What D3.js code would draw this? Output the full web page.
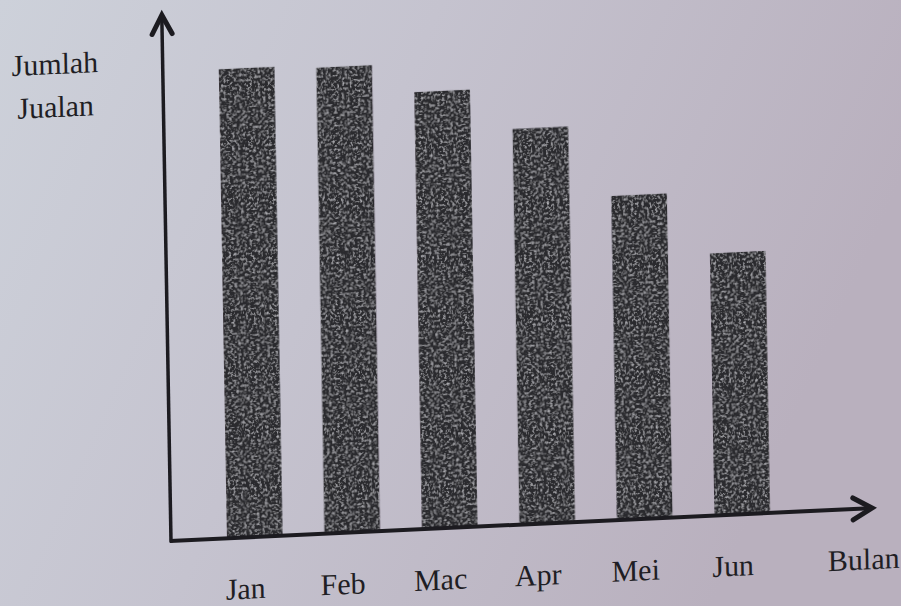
<!DOCTYPE html>
<html>
<head>
<meta charset="utf-8">
<script src="https://cdn.jsdelivr.net/npm/d3@7"></script>
<style>
  html, body { margin: 0; padding: 0; background: #c4c3ce; }
  svg { display: block; }
  text { font-family: "Liberation Serif", "DejaVu Serif", serif; fill: #1f1e24; }
</style>
</head>
<body>
<svg id="chart" width="901" height="606"></svg>
<script>
// ---- data ----
const months = ["Jan", "Feb", "Mac", "Apr", "Mei", "Jun"];
const sales = [93.8, 93.2, 87.4, 79.1, 64.8, 52.4];
const yTitle = ["Jumlah", "Jualan"];
const xTitle = "Bulan";

const svg = d3.select("#chart");
const W = 901, H = 606;

// background (photographed paper)
const defs = svg.append("defs");
const bg = defs.append("linearGradient").attr("id", "paper")
  .attr("x1", "0").attr("y1", "0").attr("x2", "1").attr("y2", "0.3");
bg.append("stop").attr("offset", "0%").attr("stop-color", "#cdd1da");
bg.append("stop").attr("offset", "45%").attr("stop-color", "#c5c3cf");
bg.append("stop").attr("offset", "100%").attr("stop-color", "#b9b0be");
svg.append("rect").attr("width", W).attr("height", H).attr("fill", "url(#paper)");

// grain texture for the printed bars
const f = defs.append("filter").attr("id", "grain")
  .attr("x", "0").attr("y", "0").attr("width", "1").attr("height", "1");
f.append("feTurbulence").attr("type", "fractalNoise").attr("baseFrequency", "0.38")
  .attr("numOctaves", 3).attr("seed", 7).attr("result", "n");
f.append("feColorMatrix").attr("in", "n").attr("type", "matrix")
  .attr("values", "0 0 0 0 0.6  0 0 0 0 0.6  0 0 0 0 0.64  0 0 0 1.9 -0.95")
  .attr("result", "speck");
f.append("feComposite").attr("in", "speck").attr("in2", "SourceGraphic")
  .attr("operator", "in").attr("result", "s2");
const m = f.append("feMerge");
m.append("feMergeNode").attr("in", "SourceGraphic");
m.append("feMergeNode").attr("in", "s2");

// the photographed page is slightly tilted: local frame origin = axis corner
const g = svg.append("g")
  .attr("transform", "matrix(1,-0.047,0.0175,1,171,541)");

const x = d3.scaleBand().domain(months).range([56, 599])
  .paddingInner(0.43).paddingOuter(0);
const y = d3.scaleLinear().domain([0, 100]).range([0, -500]);

// bars
g.append("g").selectAll("rect")
  .data(months.map((mo, i) => ({ mo, v: sales[i] })))
  .join("rect")
  .attr("x", d => x(d.mo))
  .attr("y", d => y(d.v))
  .attr("width", x.bandwidth())
  .attr("height", d => y(0) - y(d.v))
  .attr("fill", "#2b292e")
  .attr("filter", "url(#grain)");

// axes lines
const axisColor = "#1c1b20";
const xEnd = 701, yEnd = -526;
g.append("line").attr("x1", -1).attr("y1", 0).attr("x2", xEnd - 2).attr("y2", 0)
  .attr("stroke", axisColor).attr("stroke-width", 4);
g.append("line").attr("x1", 0).attr("y1", 1.5).attr("x2", 0).attr("y2", yEnd + 2)
  .attr("stroke", axisColor).attr("stroke-width", 3.5);

// arrow heads
g.append("path")
  .attr("d", `M${xEnd - 19},${-11} L${xEnd},0 L${xEnd - 19},${11}`)
  .attr("fill", "none").attr("stroke", axisColor).attr("stroke-width", 5)
  .attr("stroke-linejoin", "miter").attr("stroke-linecap", "round");
g.append("path")
  .attr("d", `M${-10},${yEnd + 19} L0,${yEnd} L${10},${yEnd + 19}`)
  .attr("fill", "none").attr("stroke", axisColor).attr("stroke-width", 5)
  .attr("stroke-linejoin", "miter").attr("stroke-linecap", "round");

// month labels via axis (no ticks, no domain line)
const xAxis = g.append("g")
  .call(d3.axisBottom(x).tickSize(0).tickPadding(40));
xAxis.select(".domain").remove();
xAxis.selectAll("text")
  .attr("dx", -10)
  .style("font-family", "'Liberation Serif', serif")
  .style("font-size", "30px")
  .attr("fill", "#1f1e24");

// titles
g.append("text").attr("x", 656).attr("y", 61)
  .style("font-size", "30px").text(xTitle);
g.append("g").selectAll("text").data(yTitle).join("text")
  .attr("x", (d, i) => i === 0 ? -151 : -146)
  .attr("y", (d, i) => i === 0 ? -472 : -429)
  .style("font-size", "30px")
  .text(d => d);
</script>
</body>
</html>
